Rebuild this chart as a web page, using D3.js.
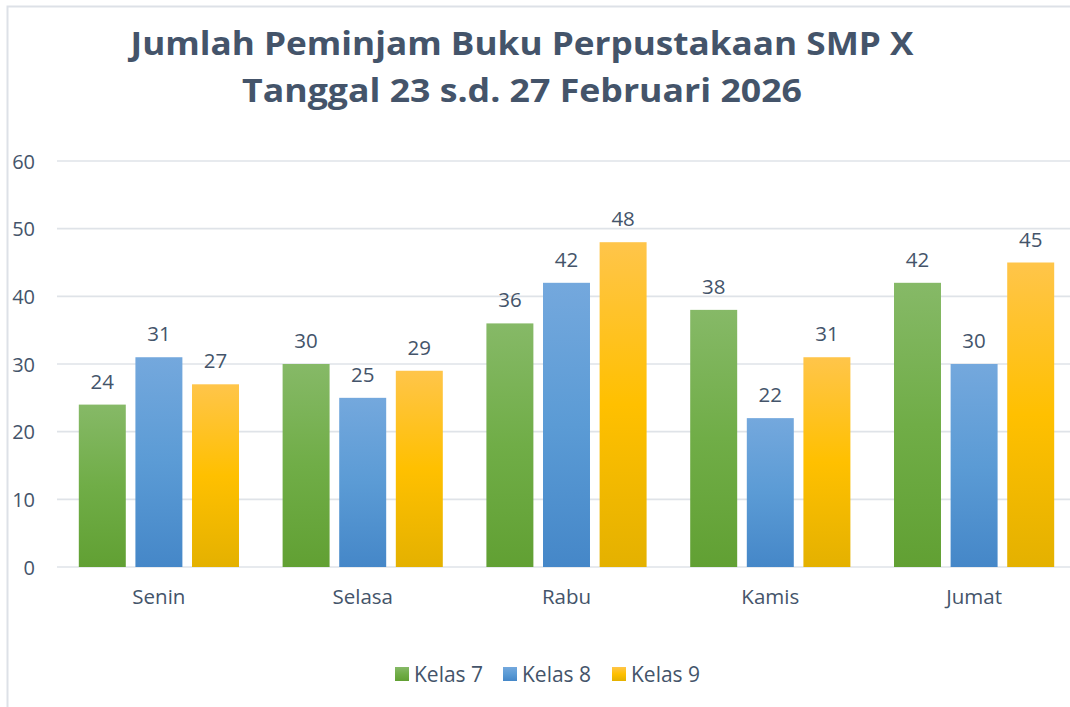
<!DOCTYPE html>
<html>
<head>
<meta charset="utf-8">
<script src="https://cdn.jsdelivr.net/npm/d3@7"></script>
<style>
  html, body { margin: 0; padding: 0; background: #fff; }
  svg { display: block; }
  text { font-family: "Open Sans", "DejaVu Sans", sans-serif; fill: #44546a; }
</style>
</head>
<body>
<div id="chart"></div>
<script>
// data
const days = ["Senin", "Selasa", "Rabu", "Kamis", "Jumat"];
const seriesNames = ["Kelas 7", "Kelas 8", "Kelas 9"];
const kelas7 = [24, 30, 36, 38, 42];
const kelas8 = [31, 25, 42, 22, 30];
const kelas9 = [27, 29, 48, 31, 45];
const yTicks = [0, 10, 20, 30, 40, 50, 60];
const titleLines = ["Jumlah Peminjam Buku Perpustakaan SMP X", "Tanggal 23 s.d. 27 Februari 2026"];

// gradient stops per series: [top, middle, bottom]
const palette = [
  ["#86b967", "#70ad47", "#61a033"],
  ["#74a8dd", "#5b9bd5", "#4587c8"],
  ["#ffc54a", "#ffc000", "#e4b100"]
];

const W = 1070, H = 707;
const margin = {top: 161, left: 57, right: -6, bottom: H - 567};
const innerW = W - margin.left - margin.right;
const innerH = H - margin.top - margin.bottom;

const svg = d3.select("#chart").append("svg")
    .attr("width", W).attr("height", H)
    .attr("viewBox", `0 0 ${W} ${H}`);

const defs = svg.append("defs");
palette.forEach((p, i) => {
  const g = defs.append("linearGradient").attr("id", "grad" + i)
      .attr("x1", 0).attr("y1", 0).attr("x2", 0).attr("y2", 1);
  g.append("stop").attr("offset", "0%").attr("stop-color", p[0]);
  g.append("stop").attr("offset", "50%").attr("stop-color", p[1]);
  g.append("stop").attr("offset", "100%").attr("stop-color", p[2]);
});

// chart frame (clipped at right and bottom)
svg.append("path")
    .attr("d", `M7.5,${H} V6.5 H${W}`)
    .attr("fill", "none").attr("stroke", "#dde1e7").attr("stroke-width", 2);

// title
svg.selectAll(".title").data(titleLines).join("text")
    .attr("class", "title")
    .attr("x", 522).attr("y", (d, i) => 55 + i * 47)
    .attr("text-anchor", "middle")
    .attr("textLength", (d, i) => i === 0 ? 783 : 560)
    .attr("lengthAdjust", "spacingAndGlyphs")
    .style("font-size", "32px").style("font-weight", 700)
    .text(d => d);

const g = svg.append("g").attr("transform", `translate(${margin.left},${margin.top})`);

const y = d3.scaleLinear().domain([0, 60]).range([innerH, 0]);
const x0 = d3.scaleBand().domain(days).range([0, innerW]).paddingInner(0.214).paddingOuter(0.107);
const x1 = d3.scaleBand().domain(seriesNames).range([0, x0.bandwidth()]).paddingInner(0.17);

// gridlines
g.selectAll(".grid").data(yTicks).join("line")
    .attr("class", "grid")
    .attr("x1", 0).attr("x2", innerW)
    .attr("y1", d => y(d)).attr("y2", d => y(d))
    .attr("stroke", "#dfe3e8").attr("stroke-width", 1.6);

// y axis labels
const yAxis = g.append("g").call(d3.axisLeft(y).tickValues(yTicks).tickSize(0).tickPadding(22));
yAxis.select(".domain").remove();
yAxis.selectAll("text").style("font-size", "20px").attr("fill", "#44546a").attr("dy", "0.35em");

// x axis labels
const xAxis = g.append("g").attr("transform", `translate(0,${innerH})`)
    .call(d3.axisBottom(x0).tickSize(0).tickPadding(22));
xAxis.select(".domain").remove();
xAxis.selectAll("text").style("font-size", "20.5px").attr("fill", "#44546a");

// bars
const allSeries = [kelas7, kelas8, kelas9];
const rows = days.map((d, i) => ({day: d, vals: allSeries.map((s, k) => ({k, v: s[i]}))}));

const groups = g.selectAll(".day").data(rows).join("g")
    .attr("class", "day")
    .attr("transform", d => `translate(${x0(d.day)},0)`);

groups.selectAll("rect").data(d => d.vals).join("rect")
    .attr("x", d => x1(seriesNames[d.k]))
    .attr("y", d => y(d.v))
    .attr("width", x1.bandwidth())
    .attr("height", d => y(0) - y(d.v))
    .attr("fill", d => `url(#grad${d.k})`);

groups.selectAll(".lbl").data(d => d.vals).join("text")
    .attr("class", "lbl")
    .attr("x", d => x1(seriesNames[d.k]) + x1.bandwidth() / 2)
    .attr("y", d => y(d.v) - 16)
    .attr("text-anchor", "middle")
    .style("font-size", "20.5px")
    .text(d => d.v);

// legend
const legendX = [395, 503, 612];
const legend = svg.selectAll(".legend").data(seriesNames).join("g")
    .attr("class", "legend")
    .attr("transform", (d, i) => `translate(${legendX[i]},667)`);
legend.append("rect").attr("width", 14).attr("height", 14)
    .attr("fill", (d, i) => `url(#grad${i})`);
legend.append("text").attr("x", 19).attr("y", 14.5)
    .style("font-size", "21px").text(d => d);
</script>
</body>
</html>
